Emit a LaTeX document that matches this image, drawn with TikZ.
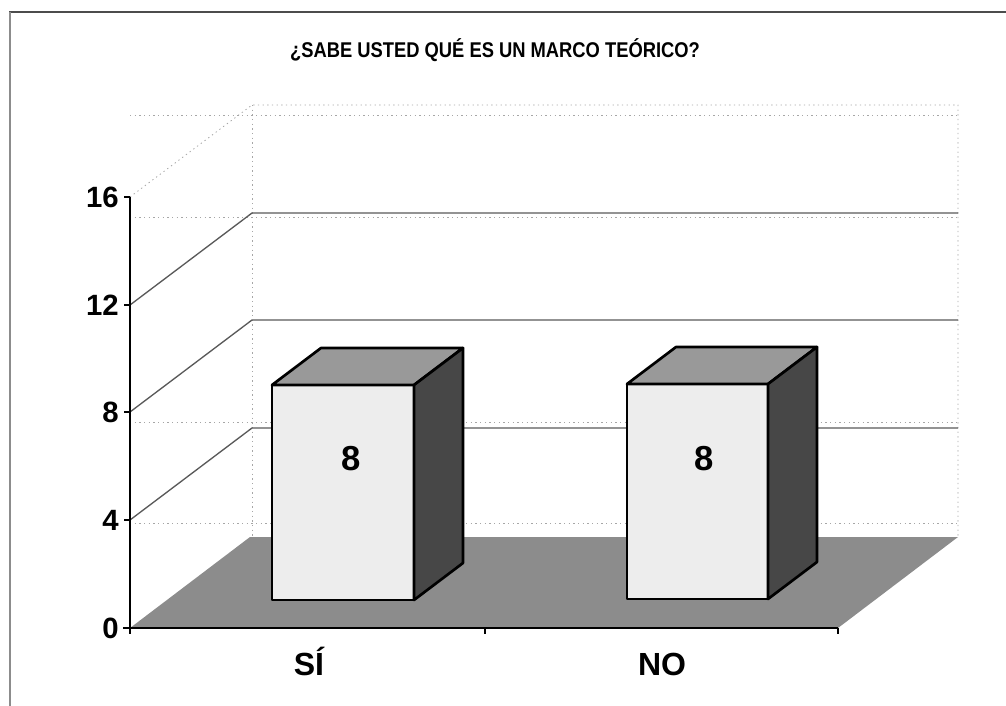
\documentclass[tikz,border=0pt]{standalone}
\usepackage{fontspec}
\setmainfont{Liberation Sans}
\begin{document}
\begin{tikzpicture}[x=0.75pt,y=-0.75pt,
  frameline/.style={draw=black!70,line width=1.2pt},
  faintdot/.style={draw=black!35,line width=0.6pt,dash pattern=on 1pt off 2.5pt},
  gridline/.style={draw=black!65,line width=1pt},
  axisline/.style={draw=black,line width=1pt},
  floorfill/.style={fill=black!45},
  frontface/.style={fill=black!7,draw=black,line width=2pt,line join=round},
  topface/.style={fill=black!40,draw=black,line width=2pt,line join=round},
  sideface/.style={fill=black!72,draw=black,line width=2pt,line join=round},
  ticklbl/.style={anchor=east,inner sep=0pt,font=\fontsize{22}{22}\selectfont\bfseries},
  catlbl/.style={anchor=base,inner sep=0pt,font=\fontsize{24}{24}\selectfont\bfseries},
  barlbl/.style={anchor=base,inner sep=0pt,font=\fontsize{26}{26}\selectfont\bfseries},
  titlelbl/.style={inner sep=0pt,font=\fontsize{16}{16}\selectfont\bfseries}]
\useasboundingbox (0,0) rectangle (1006,706);
% outer frame
\draw[frameline] (9,12) -- (1006,12);
\draw[draw=black!45,line width=1pt] (10,12) -- (10,706);
% title
\node[titlelbl] (title) at (495,50) {\scalebox{0.86}[1]{¿SABE USTED QUÉ ES UN MARCO TEÓRICO?}};
% faint dotted back wall / bleed lines
\draw[faintdot] (130,197) -- (252,105) -- (958,105) -- (958,537);
\draw[faintdot] (252,105) -- (252,537);
\foreach \yy in {115,217,422,523} \draw[faintdot] (130,\yy) -- (958,\yy);
% side wall diagonals and back wall gridlines
\foreach \v/\yy in {4/520,8/412,12/305} {
  \draw[gridline] (130,\yy) -- (252,\yy-92) -- (958,\yy-92);
}
% floor
\fill[floorfill] (130,628) -- (838,628) -- (958,537) -- (250,537) -- cycle;
% bar 1
\path[frontface] (272,385) rectangle (414,600);
\path[topface] (272,385) -- (321,348) -- (463,348) -- (414,385) -- cycle;
\path[sideface] (414,385) -- (463,348) -- (463,563) -- (414,600) -- cycle;
\node[barlbl] (v1) at (351,470) {8};
% bar 2
\path[frontface] (627,384) rectangle (768,599);
\path[topface] (627,384) -- (676,347) -- (817,347) -- (768,384) -- cycle;
\path[sideface] (768,384) -- (817,347) -- (817,562) -- (768,599) -- cycle;
\node[barlbl] (v2) at (704,470) {8};
% axes
\draw[axisline] (130,197) -- (130,634);
\draw[draw=black,line width=2.2pt] (123,628) -- (838,628);
\foreach \yy in {197,305,412,520} \draw[axisline] (124,\yy) -- (130,\yy);
\foreach \xx in {485,838} \draw[axisline] (\xx,628) -- (\xx,634);
% tick labels
\node[ticklbl] (t16) at (119,197) {16};
\node[ticklbl] (t12) at (119,305) {12};
\node[ticklbl] (t8) at (119,412) {8};
\node[ticklbl] (t4) at (119,520) {4};
\node[ticklbl] (t0) at (119,628) {0};
% category labels
\node[catlbl] (si) at (309,675) {SÍ};
\node[catlbl] (no) at (662,675) {NO};
\end{tikzpicture}
\end{document}
